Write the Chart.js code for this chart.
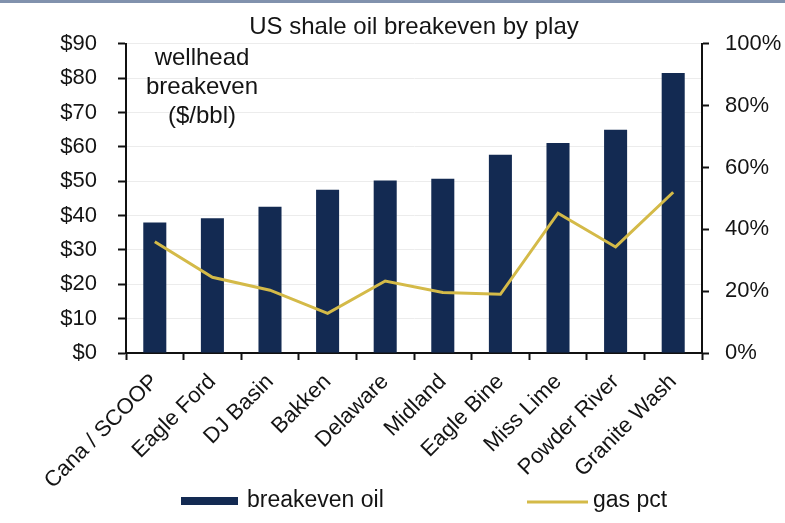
<!DOCTYPE html>
<html>
<head>
<meta charset="utf-8">
<title>US shale oil breakeven by play</title>
<script src="https://cdn.jsdelivr.net/npm/chart.js@4/dist/chart.umd.min.js"></script>
<style>
    html, body { margin: 0; padding: 0; background: #fff; }
    #wrap { position: relative; width: 785px; height: 523px; }
    #topRule { position: absolute; left: 0; top: 0; width: 785px; height: 3px; background: #8192ad; }
</style>
</head>
<body>
<div id="wrap">
    <div id="topRule"></div>
    <canvas id="chart" width="785" height="523"></canvas>
</div>
<script>
(function () {
    'use strict';

    const plays = ['Cana / SCOOP', 'Eagle Ford', 'DJ Basin', 'Bakken', 'Delaware', 'Midland',
        'Eagle Bine', 'Miss Lime', 'Powder River', 'Granite Wash'];
    const breakevenOil = [38, 39.2, 42.6, 47.5, 50.2, 50.7, 57.7, 61.1, 65, 81.5];
    const gasPct = [36, 24.5, 20.3, 12.8, 23.3, 19.6, 19, 45.2, 34.3, 52];
    const priceTicks = [0, 10, 20, 30, 40, 50, 60, 70, 80, 90];
    const pctTicks = [0, 20, 40, 60, 80, 100];
    const noteLines = ['wellhead', 'breakeven', '($/bbl)'];

    const NAVY = '#132a52';
    const GOLD = '#d4ba48';
    const INK = '#141414';

    Chart.defaults.font.family = '"Liberation Sans", Arial, Helvetica, sans-serif';
    Chart.defaults.color = INK;

    // text note in the upper left of the plot
    const notePlugin = {
        id: 'note',
        afterDatasetsDraw(chart) {
            const { ctx, chartArea } = chart;
            ctx.save();
            ctx.font = '24px "Liberation Sans", Arial, sans-serif';
            ctx.fillStyle = INK;
            ctx.textAlign = 'center';
            ctx.textBaseline = 'middle';
            noteLines.forEach((t, i) => {
                ctx.fillText(t, chartArea.left + 76, chartArea.top + 15 + i * 29);
            });
            ctx.restore();
        }
    };

    // legend row spread wide under the axis labels
    const legendPlugin = {
        id: 'wideLegend',
        afterDraw(chart) {
            const { ctx, chartArea } = chart;
            const y = 501;
            const starts = [chartArea.left + 55, chartArea.left + 401];
            ctx.save();
            ctx.font = '23px "Liberation Sans", Arial, sans-serif';
            ctx.textBaseline = 'middle';
            ctx.textAlign = 'left';
            chart.data.datasets.forEach((ds, i) => {
                const x = starts[i];
                if (ds.type === 'line') {
                    ctx.strokeStyle = ds.borderColor;
                    ctx.lineWidth = 3;
                    ctx.beginPath();
                    ctx.moveTo(x, y + 1);
                    ctx.lineTo(x + 61, y + 1);
                    ctx.stroke();
                } else {
                    ctx.fillStyle = ds.backgroundColor;
                    ctx.fillRect(x, y - 4, 57, 8);
                }
                ctx.fillStyle = INK;
                ctx.fillText(ds.label, x + 66, y);
            });
            ctx.restore();
        }
    };

    const ctx = document.getElementById('chart');

    new Chart(ctx, {
        type: 'bar',
        data: {
            labels: plays,
            datasets: [
                {
                    type: 'bar',
                    label: 'breakeven oil',
                    data: breakevenOil,
                    backgroundColor: NAVY,
                    borderWidth: 0,
                    barPercentage: 0.4,
                    categoryPercentage: 1,
                    yAxisID: 'y',
                    order: 1
                },
                {
                    type: 'line',
                    label: 'gas pct',
                    data: gasPct,
                    borderColor: GOLD,
                    borderWidth: 3,
                    pointRadius: 0,
                    tension: 0,
                    yAxisID: 'y1',
                    order: 0
                }
            ]
        },
        options: {
            responsive: false,
            animation: false,
            layout: { padding: 0 },
            plugins: {
                legend: { display: false },
                tooltip: { enabled: false },
                title: {
                    display: true,
                    fullSize: false,
                    text: 'US shale oil breakeven by play',
                    color: INK,
                    font: { size: 24, weight: 'normal' },
                    padding: { top: 13, bottom: 2 }
                }
            },
            scales: {
                x: {
                    grid: {
                        drawOnChartArea: false,
                        drawTicks: true,
                        tickLength: 7,
                        tickColor: '#111',
                        tickWidth: 2
                    },
                    border: { display: true, color: '#111', width: 2 },
                    ticks: {
                        minRotation: 45,
                        maxRotation: 45,
                        padding: 9,
                        autoSkip: false,
                        color: INK,
                        font: { size: 22 }
                    },
                    afterFit(scale) {
                        scale.height = 170;
                    }
                },
                y: {
                    position: 'left',
                    min: 0,
                    max: 90,
                    afterBuildTicks(scale) {
                        scale.ticks = priceTicks.map(v => ({ value: v }));
                    },
                    grid: {
                        color: '#ececec',
                        lineWidth: 1,
                        drawTicks: true,
                        tickLength: 8,
                        tickColor: '#111',
                        tickWidth: 2
                    },
                    border: { display: true, color: '#111', width: 2 },
                    ticks: {
                        padding: 21,
                        color: INK,
                        font: { size: 22 },
                        callback: v => '$' + v
                    },
                    afterFit(scale) {
                        scale.width = 126;
                    }
                },
                y1: {
                    position: 'right',
                    min: 0,
                    max: 100,
                    afterBuildTicks(scale) {
                        scale.ticks = pctTicks.map(v => ({ value: v }));
                    },
                    grid: {
                        drawOnChartArea: false,
                        drawTicks: true,
                        tickLength: 7,
                        tickColor: '#111',
                        tickWidth: 2
                    },
                    border: { display: true, color: '#111', width: 2 },
                    ticks: {
                        padding: 16,
                        color: INK,
                        font: { size: 22 },
                        callback: v => v + '%'
                    },
                    afterFit(scale) {
                        scale.width = 83;
                    }
                }
            }
        },
        plugins: [notePlugin, legendPlugin]
    });
})();
</script>
</body>
</html>
